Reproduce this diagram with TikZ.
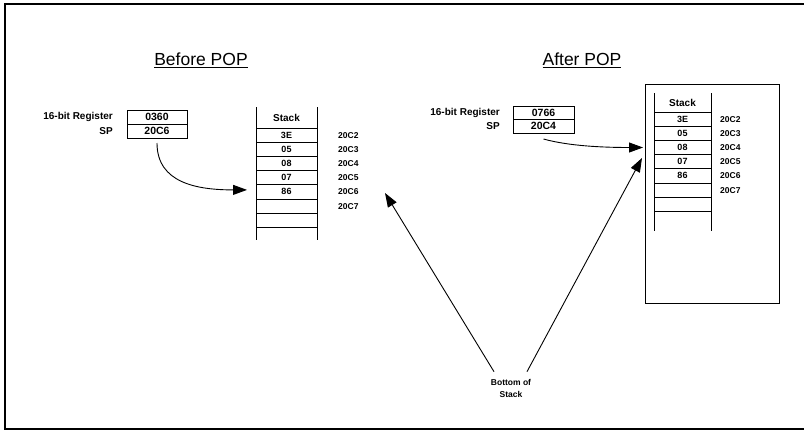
\documentclass[tikz,border=0pt]{standalone}
\usepackage{fontspec}
\setmainfont{Liberation Sans}
\usetikzlibrary{arrows.meta,positioning}
\tikzset{
  regcell/.style={draw,line width=0.9pt,minimum width=60pt,minimum height=14pt,
    inner sep=0pt,outer sep=0pt,font=\bfseries\fontsize{10.5}{12}\selectfont},
  stackcell/.style={draw,line width=0.9pt,minimum width=61pt,minimum height=14.2pt,
    inner sep=0pt,outer sep=0pt,font=\bfseries\fontsize{9}{10}\selectfont},
  stackhead/.style={minimum width=61pt,inner sep=0pt,outer sep=0pt,
    font=\bfseries\fontsize{10}{11}\selectfont},
  addr/.style={font=\bfseries\fontsize{8.5}{10}\selectfont,inner sep=0pt},
  reglabel/.style={font=\bfseries\fontsize{10}{11}\selectfont,inner sep=0pt},
  title/.style={font=\fontsize{17.5}{20}\selectfont,inner sep=0pt},
  arrow/.style={-{Triangle[length=14pt,width=10pt]},line width=0.9pt}
}

\begin{document}
\begin{tikzpicture}[x=1pt,y=-1pt,node distance=0pt]
  \useasboundingbox (0,0) rectangle (804,431);
  % frame
  \draw[line width=1.4pt] (804,4) -- (5,4) -- (5,429) -- (804,429);

  % before POP
  \node[title] (tbefore) at (201,60) {\underline{Before POP}};
  \node[regcell] (rb1) at (157,117) {0360};
  \node[regcell,below=of rb1] (rb2) {20C6};
  \node[reglabel,left=14pt of rb1] (lb1) {16-bit Register};
  \node[reglabel,left=14pt of rb2] (lb2) {SP};

  \node[stackhead,minimum height=21pt] (bhead) at (286.5,117.5) {Stack};
  \node[stackcell,below=of bhead] (b1) {3E};
  \node[stackcell,below=of b1] (b2) {05};
  \node[stackcell,below=of b2] (b3) {08};
  \node[stackcell,below=of b3] (b4) {07};
  \node[stackcell,below=of b4] (b5) {86};
  \node[stackcell,below=of b5] (b6) {};
  \node[stackcell,below=of b6] (b7) {};
  \draw[line width=0.9pt] (bhead.north west) -- ([yshift=-13pt]b7.south west);
  \draw[line width=0.9pt] (bhead.north east) -- ([yshift=-13pt]b7.south east);
  \node[addr,right=21pt of b1] (ab1) {20C2};
  \node[addr,right=21pt of b2] (ab2) {20C3};
  \node[addr,right=21pt of b3] (ab3) {20C4};
  \node[addr,right=21pt of b4] (ab4) {20C5};
  \node[addr,right=21pt of b5] (ab5) {20C6};
  \node[addr,right=21pt of b6] (ab6) {20C7};

  \draw[arrow] ([yshift=-5pt]rb2.south) .. controls +(0,40) and +(-50,0) .. ([xshift=-9pt,yshift=2pt]b5.west);

  % after POP
  \node[title] (tafter) at (582,60) {\underline{After POP}};
  \node[regcell,minimum width=61pt,minimum height=13.5pt] (ra1) at (543.5,112.75) {0766};
  \node[regcell,minimum width=61pt,minimum height=13.5pt,below=of ra1] (ra2) {20C4};
  \node[reglabel,left=13pt of ra1] (la1) {16-bit Register};
  \node[reglabel,left=13pt of ra2] (la2) {SP};

  \draw[line width=1pt] (645,84) rectangle (779,303);
  \node[stackhead,minimum width=57pt,minimum height=19pt] (ahead) at (682.5,102.5) {Stack};
  \node[stackcell,minimum width=57pt,below=of ahead] (a1) {3E};
  \node[stackcell,minimum width=57pt,below=of a1] (a2) {05};
  \node[stackcell,minimum width=57pt,below=of a2] (a3) {08};
  \node[stackcell,minimum width=57pt,below=of a3] (a4) {07};
  \node[stackcell,minimum width=57pt,below=of a4] (a5) {86};
  \node[stackcell,minimum width=57pt,below=of a5] (a6) {};
  \node[stackcell,minimum width=57pt,below=of a6] (a7) {};
  \draw[line width=0.9pt] (ahead.north west) -- ([yshift=-20pt]a7.south west);
  \draw[line width=0.9pt] (ahead.north east) -- ([yshift=-20pt]a7.south east);
  \node[addr,right=9pt of a1] (aa1) {20C2};
  \node[addr,right=9pt of a2] (aa2) {20C3};
  \node[addr,right=9pt of a3] (aa3) {20C4};
  \node[addr,right=9pt of a4] (aa4) {20C5};
  \node[addr,right=9pt of a5] (aa5) {20C6};
  \node[addr,right=9pt of a6] (aa6) {20C7};

  \draw[arrow] ([yshift=-6pt]ra2.south) .. controls +(25,7) and +(-40,0) .. ([xshift=-11pt]a3.west);

  % bottom of stack
  \node[addr,align=center,font=\bfseries\fontsize{8.5}{12}\selectfont] (bot) at (511,388) {Bottom of\\Stack};
  \coordinate (btipl) at (385,193);
  \coordinate (btipr) at (642,158);
  \draw[arrow] ([xshift=-17pt,yshift=7pt]bot.north) -- (btipl);
  \draw[arrow] ([xshift=16pt,yshift=7pt]bot.north) -- (btipr);
\end{tikzpicture}
\end{document}
